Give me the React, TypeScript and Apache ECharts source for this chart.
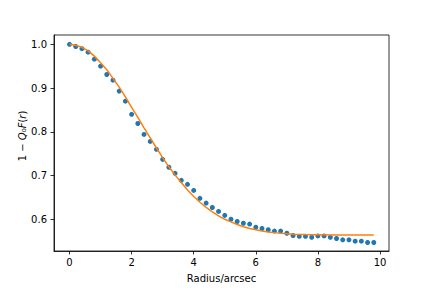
import React, { useEffect, useRef } from "react";
import * as echarts from "echarts";

const radius = [
  0, 0.2, 0.4, 0.6, 0.8, 1.0, 1.2, 1.4, 1.6, 1.8,
  2.0, 2.2, 2.4, 2.6, 2.8, 3.0, 3.2, 3.4, 3.6, 3.8,
  4.0, 4.2, 4.4, 4.6, 4.8, 5.0, 5.2, 5.4, 5.6, 5.8,
  6.0, 6.2, 6.4, 6.6, 6.8, 7.0, 7.2, 7.4, 7.6, 7.8,
  8.0, 8.2, 8.4, 8.6, 8.8, 9.0, 9.2, 9.4, 9.6, 9.8,
];

const measured = [
  1.0, 0.995, 0.99, 0.982, 0.966, 0.95, 0.931, 0.918, 0.893, 0.87,
  0.84, 0.819, 0.794, 0.778, 0.76, 0.737, 0.719, 0.705, 0.689, 0.68,
  0.666, 0.648, 0.637, 0.627, 0.618, 0.609, 0.6, 0.595, 0.591, 0.589,
  0.582, 0.579, 0.576, 0.573, 0.573, 0.568, 0.563, 0.561, 0.561, 0.559,
  0.562, 0.562, 0.559, 0.556, 0.553, 0.553, 0.55, 0.55, 0.547, 0.547,
];

const model = [
  1.0, 0.998, 0.993, 0.985, 0.973, 0.958, 0.942, 0.922, 0.902, 0.88,
  0.856, 0.833, 0.809, 0.786, 0.763, 0.741, 0.72, 0.701, 0.684, 0.667,
  0.652, 0.639, 0.627, 0.617, 0.608, 0.6, 0.594, 0.588, 0.583, 0.579,
  0.576, 0.573, 0.571, 0.5695, 0.568, 0.567, 0.566, 0.5655, 0.565, 0.5648,
  0.5645, 0.5644, 0.5643, 0.5642, 0.5642, 0.5641, 0.5641, 0.5641, 0.564, 0.564,
];

const xTicks = [0, 2, 4, 6, 8, 10];
const yTicks = [0.6, 0.7, 0.8, 0.9, 1.0];

const FONT = "DejaVu Sans";

export default function App() {
  const ref = useRef<HTMLDivElement>(null);
  useEffect(() => {
    if (!ref.current) return;
    const chart = echarts.init(ref.current, null, { renderer: "svg" });
    const axisCommon = {
      axisLine: { show: true, onZero: false, lineStyle: { color: "#000", width: 0.8 } },
      axisTick: { show: true, inside: false, length: 3.5, lineStyle: { color: "#000", width: 0.8 } },
      splitLine: { show: false },
    };
    chart.setOption({
      animation: false,
      backgroundColor: "#fff",
      grid: {
        left: 54,
        right: 43,
        top: 35,
        bottom: 37,
        show: true,
        borderColor: "#000",
        borderWidth: 0.8,
        backgroundColor: "transparent",
      },
      graphic: [
        {
          type: "text",
          x: 22,
          y: 136,
          rotation: Math.PI / 2,
          style: {
            text: "{n|1 − }{i|Q}{n|₀}{i|F}{n|(}{i|r}{n|)}",
            align: "center",
            verticalAlign: "middle",
            fill: "#000",
            font: `10px "${FONT}"`,
            rich: {
              n: { fontFamily: FONT, fontSize: 10, fill: "#000" },
              i: { fontFamily: FONT, fontSize: 10, fill: "#000", fontStyle: "italic" },
            },
          },
        },
      ],
      xAxis: {
        type: "value",
        min: -0.5,
        max: 10.29,
        ...axisCommon,
        axisTick: { ...axisCommon.axisTick, customValues: xTicks },
        axisLabel: {
          customValues: xTicks,
          color: "#000",
          fontFamily: FONT,
          fontSize: 10,
          margin: 6,
        },
        name: "Radius/arcsec",
        nameLocation: "middle",
        nameGap: 22,
        nameTextStyle: { color: "#000", fontFamily: FONT, fontSize: 10 },
      },
      yAxis: {
        type: "value",
        min: 0.5275,
        max: 1.0213,
        ...axisCommon,
        axisTick: { ...axisCommon.axisTick, customValues: yTicks },
        axisLabel: {
          customValues: yTicks,
          color: "#000",
          fontFamily: FONT,
          fontSize: 10,
          margin: 7,
          formatter: (v: number) => v.toFixed(1),
        },
      },
      series: [
        {
          type: "scatter",
          data: radius.map((r, i) => [r, measured[i]]),
          symbol: "circle",
          symbolSize: 5,
          itemStyle: { color: "#1f77b4", opacity: 1 },
          z: 2,
        },
        {
          type: "line",
          data: radius.map((r, i) => [r, model[i]]),
          showSymbol: false,
          smooth: false,
          lineStyle: { color: "#ff7f0e", width: 1.5 },
          z: 3,
        },
      ],
    });
    return () => chart.dispose();
  }, []);
  return (
    <div
      ref={ref}
      style={{ position: "fixed", left: 0, top: 0, width: 432, height: 288 }}
    />
  );
}
